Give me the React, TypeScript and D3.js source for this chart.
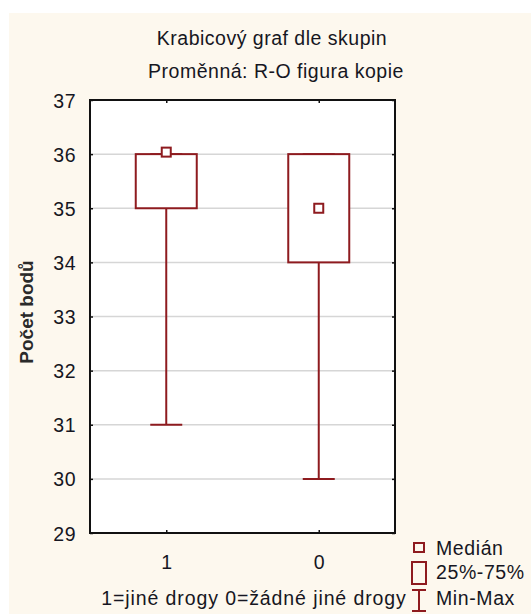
import React, { useEffect, useRef } from "react";
import * as d3 from "d3";

// box plot by group, statistica-like styling

const groups = ["1", "0"];
const mins = [31, 30];
const q1s = [35, 34];
const medians = [36, 35];
const q3s = [36, 36];
const maxs = [36, 36];
const yTicks = [29, 30, 31, 32, 33, 34, 35, 36, 37];
const legendLabels = ["Medián", "25%-75%", "Min-Max"];

const FONT = "'Liberation Sans', Arial, sans-serif";
const RED = "#8e1b1f";
const TEXT = "#161622";

export default function App() {
  const svgRef = useRef<SVGSVGElement | null>(null);

  useEffect(() => {
    const svgEl = svgRef.current;
    if (!svgEl) return;
    const svg = d3.select(svgEl);
    svg.selectAll("*").remove();

    const W = 531;
    const H = 614;
    const plot = { left: 90, right: 395, top: 100, bottom: 533 };

    svg.append("rect").attr("x", 9).attr("y", 13).attr("width", W - 9).attr("height", H - 13).attr("fill", "#fdf8ee");

    const x = d3.scalePoint<string>().domain(groups).range([plot.left, plot.right]).padding(0.5);
    const y = d3.scaleLinear().domain([29, 37]).range([plot.bottom, plot.top]);

    // titles
    svg.append("text").attr("x", 272).attr("y", 45).attr("text-anchor", "middle")
      .attr("font-family", FONT).attr("font-size", 19.5).attr("letter-spacing", 0.5).attr("fill", TEXT)
      .text("Krabicový graf dle skupin");
    svg.append("text").attr("x", 276).attr("y", 78).attr("text-anchor", "middle")
      .attr("font-family", FONT).attr("font-size", 19.5).attr("letter-spacing", 0.5).attr("fill", TEXT)
      .text("Proměnná: R-O figura kopie");

    // plot background
    svg.append("rect").attr("x", plot.left).attr("y", plot.top)
      .attr("width", plot.right - plot.left).attr("height", plot.bottom - plot.top).attr("fill", "#fff");

    // gridlines
    svg.append("g").selectAll("line").data(yTicks.slice(1, -1)).join("line")
      .attr("x1", plot.left).attr("x2", plot.right)
      .attr("y1", (d) => y(d)).attr("y2", (d) => y(d))
      .attr("stroke", "#d6d6d6").attr("stroke-width", 1.5);

    // axes with inward ticks
    const left = d3.axisLeft(y).tickValues(yTicks).tickSize(-3).tickPadding(14).tickFormat(d3.format("d"));
    const gl = svg.append("g").attr("transform", `translate(${plot.left},0)`).call(left);
    const right = d3.axisRight(y).tickValues(yTicks).tickSize(-3).tickFormat(() => "");
    const gr = svg.append("g").attr("transform", `translate(${plot.right},0)`).call(right);
    const bottom = d3.axisBottom(x).tickSize(-3).tickPadding(22);
    const gb = svg.append("g").attr("transform", `translate(0,${plot.bottom})`).call(bottom);
    const top = d3.axisTop(x).tickSize(-3).tickFormat(() => "");
    const gt = svg.append("g").attr("transform", `translate(0,${plot.top})`).call(top);
    [gl, gr, gb, gt].forEach((g) => {
      g.select(".domain").remove();
      g.selectAll(".tick line").attr("stroke", "#111").attr("stroke-width", 1.5);
      g.selectAll(".tick text").attr("font-family", FONT).attr("font-size", 19.5).attr("fill", TEXT);
    });
    gl.selectAll(".tick text").attr("dy", "0.36em").attr("letter-spacing", 0.5);

    svg.append("rect").attr("x", plot.left).attr("y", plot.top)
      .attr("width", plot.right - plot.left).attr("height", plot.bottom - plot.top)
      .attr("fill", "none").attr("stroke", "#111").attr("stroke-width", 2);

    // axis labels
    svg.append("text").attr("transform", `translate(33,312) rotate(-90)`).attr("text-anchor", "middle")
      .attr("font-family", FONT).attr("font-size", 19).attr("font-weight", "bold").attr("fill", "#2a2a2a")
      .text("Počet bodů");
    svg.append("text").attr("x", 254).attr("y", 605).attr("text-anchor", "middle")
      .attr("font-family", FONT).attr("font-size", 19.5).attr("letter-spacing", 0.9).attr("fill", TEXT)
      .text("1=jiné drogy 0=žádné jiné drogy");

    // boxes
    const boxW = 61;
    const capW = 32;
    const mk = 9;
    const gBox = svg.append("g").attr("fill", "none").attr("stroke", RED).attr("stroke-width", 2);
    groups.forEach((grp, i) => {
      const cx = x(grp) as number;
      gBox.append("line").attr("x1", cx).attr("x2", cx).attr("y1", y(q1s[i])).attr("y2", y(mins[i]));
      gBox.append("line").attr("x1", cx).attr("x2", cx).attr("y1", y(q3s[i])).attr("y2", y(maxs[i]));
      gBox.append("line").attr("x1", cx - capW / 2).attr("x2", cx + capW / 2).attr("y1", y(mins[i])).attr("y2", y(mins[i]));
      gBox.append("line").attr("x1", cx - capW / 2).attr("x2", cx + capW / 2).attr("y1", y(maxs[i])).attr("y2", y(maxs[i]));
      gBox.append("rect").attr("x", cx - boxW / 2).attr("y", y(q3s[i]))
        .attr("width", boxW).attr("height", y(q1s[i]) - y(q3s[i])).attr("fill", "#fff");
      gBox.append("rect").attr("x", cx - mk / 2).attr("y", y(medians[i]) - mk / 2 - (medians[i] === q3s[i] ? 2 : 0))
        .attr("width", mk).attr("height", mk).attr("fill", "#fff");
    });

    // legend
    const lg = svg.append("g");
    const lx = 419;
    const tx = 436;
    const baselines = [555, 579, 605];
    lg.append("rect").attr("x", lx - 5).attr("y", 543).attr("width", 10).attr("height", 9)
      .attr("fill", "none").attr("stroke", RED).attr("stroke-width", 2);
    lg.append("rect").attr("x", lx - 7).attr("y", 562).attr("width", 14).attr("height", 22)
      .attr("fill", "none").attr("stroke", RED).attr("stroke-width", 2);
    lg.append("line").attr("x1", lx).attr("x2", lx).attr("y1", 590).attr("y2", 611).attr("stroke", RED).attr("stroke-width", 2);
    lg.append("line").attr("x1", lx - 7).attr("x2", lx + 7).attr("y1", 590).attr("y2", 590).attr("stroke", RED).attr("stroke-width", 2);
    lg.append("line").attr("x1", lx - 7).attr("x2", lx + 7).attr("y1", 611).attr("y2", 611).attr("stroke", RED).attr("stroke-width", 2);
    lg.selectAll("text").data(legendLabels).join("text")
      .attr("x", tx).attr("y", (d, i) => baselines[i])
      .attr("font-family", FONT).attr("font-size", 19.5).attr("letter-spacing", 0.6).attr("fill", TEXT).text((d) => d);
  }, []);

  return (
    <svg ref={svgRef} width={531} height={614} style={{ position: "absolute", left: 0, top: 0, background: "#fff" }} />
  );
}
